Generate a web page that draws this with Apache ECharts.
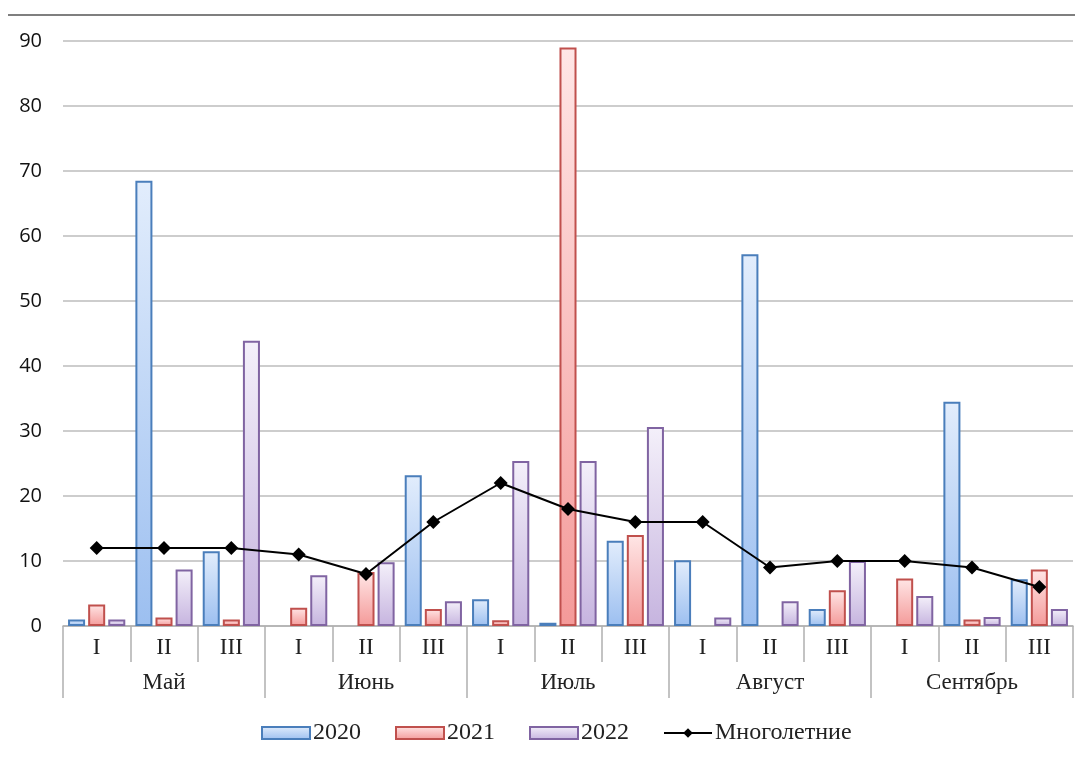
<!DOCTYPE html>
<html>
<head>
<meta charset="utf-8">
<script src="https://cdn.jsdelivr.net/npm/echarts@6/dist/echarts.min.js"></script>
<style>html,body{margin:0;padding:0;background:#fff}#c{width:1082px;height:758px}</style>
</head>
<body>
<div id="c"></div>
<script>
const decades = ['I','II','III','I','II','III','I','II','III','I','II','III','I','II','III'];
const months = ['Май','Июнь','Июль','Август','Сентябрь'];
const yTicks = [0,10,20,30,40,50,60,70,80,90];
const s2020 = [1.0, 68.5, 11.5, null, null, 23.2, 4.1, 0.5, 13.1, 10.1, 57.2, 2.6, null, 34.5, 7.2];
const s2021 = [3.3, 1.3, 1.0, 2.8, 8.3, 2.6, 0.9, 89.0, 14.0, null, null, 5.5, 7.3, 1.0, 8.7];
const s2022 = [1.0, 8.7, 43.9, 7.8, 9.8, 3.8, 25.4, 25.4, 30.6, 1.3, 3.8, 10.0, 4.6, 1.4, 2.6];
const mnogolet = [12, 12, 12, 11, 8, 16, 22, 18, 16, 16, 9, 10, 10, 9, 6];
const seriesNames = ['2020','2021','2022','Многолетние'];

const grad = (a,b) => new echarts.graphic.LinearGradient(0,0,0,1,[{offset:0,color:a},{offset:1,color:b}]);
const chart = echarts.init(document.getElementById('c'));
const serif = '"Liberation Serif", "DejaVu Serif", serif';
chart.setOption({
  animation:false,
  backgroundColor:'#fff',
  graphic:[{type:'line',shape:{x1:8,y1:15,x2:1075,y2:15},style:{stroke:'#7f7f7f',lineWidth:2}}],
  grid:{left:63,right:9,top:41,bottom:132,containLabel:false},
  legend:{
    top:716,left:256,itemWidth:48,itemHeight:12,itemGap:34,
    textStyle:{fontFamily:serif,fontSize:24,color:'#222',padding:[0,0,0,-2]},
    data:[{name:seriesNames[0],icon:'rect'},{name:seriesNames[1],icon:'rect'},{name:seriesNames[2],icon:'rect'},{name:seriesNames[3]}]
  },
  xAxis:[
    {type:'category',data:decades,position:'bottom',
     axisLine:{show:true,lineStyle:{color:'#b0b0b0',width:1.5}},
     axisTick:{show:true,interval:0,length:36,lineStyle:{color:'#b0b0b0',width:1.5}},
     axisLabel:{interval:0,margin:10,fontFamily:serif,fontSize:23,color:'#222'}},
    {type:'category',data:months,position:'bottom',
     axisLine:{show:false},
     axisTick:{show:true,interval:0,length:72,lineStyle:{color:'#b0b0b0',width:1.5}},
     axisLabel:{interval:0,margin:45,fontFamily:serif,fontSize:23,color:'#222'}}
  ],
  yAxis:{type:'value',min:0,max:90,interval:10,
    axisLine:{show:false},axisTick:{show:false},
    axisLabel:{margin:21,fontFamily:'"Open Sans", "Noto Sans", sans-serif',fontSize:20,color:'#111',
      formatter:v=>yTicks.includes(v)?String(v):''},
    splitLine:{lineStyle:{color:'#bdbdbd',width:1.5}}},
  series:[
    {name:seriesNames[0],type:'bar',data:s2020,barCategoryGap:'15%',barGap:'18%',
     itemStyle:{color:grad('#e2edfc','#9cbff0'),borderColor:'#4a7ebb',borderWidth:2}},
    {name:seriesNames[1],type:'bar',data:s2021,barCategoryGap:'15%',barGap:'18%',
     itemStyle:{color:grad('#ffe6e6','#f49a99'),borderColor:'#c0504d',borderWidth:2}},
    {name:seriesNames[2],type:'bar',data:s2022,barCategoryGap:'15%',barGap:'18%',
     itemStyle:{color:grad('#f4f0fa','#c6b4df'),borderColor:'#8064a2',borderWidth:2}},
    {name:seriesNames[3],type:'line',data:mnogolet,z:5,symbol:'diamond',symbolSize:14,
     lineStyle:{color:'#000',width:2},itemStyle:{color:'#000'}}
  ]
});
</script>
</body>
</html>
